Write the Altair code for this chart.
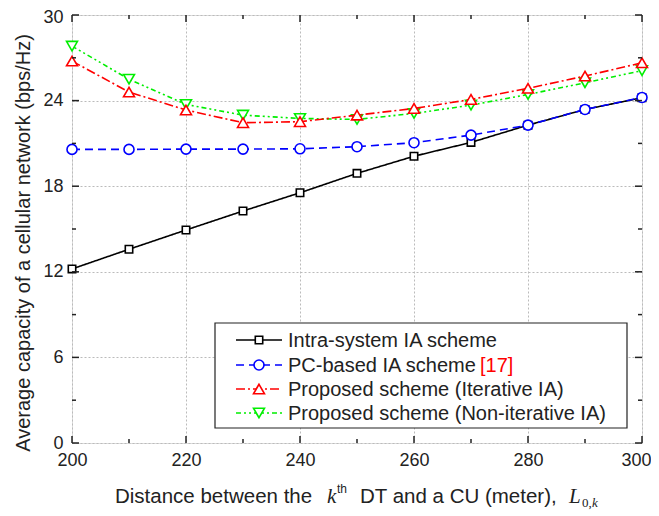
import altair as alt
import pandas as pd

distance = [200, 210, 220, 230, 240, 250, 260, 270, 280, 290, 300]
intra = [12.2, 13.58, 14.93, 16.26, 17.54, 18.9, 20.1, 21.07, 22.28, 23.38, 24.2]
pc_based = [20.58, 20.58, 20.6, 20.6, 20.62, 20.77, 21.05, 21.58, 22.28, 23.38, 24.22]
iterative = [26.77, 24.6, 23.34, 22.45, 22.52, 22.98, 23.45, 24.08, 24.86, 25.72, 26.65]
non_iterative = [27.82, 25.5, 23.73, 22.98, 22.75, 22.68, 23.1, 23.68, 24.43, 25.25, 26.1]

labels = [
    "Intra-system IA scheme",
    "PC-based IA scheme",
    "Proposed scheme (Iterative IA)",
    "Proposed scheme (Non-iterative IA)",
]
y_title = "Average capacity of a cellular network (bps/Hz)"
y_major = [0, 6, 12, 18, 24, 30]
y_minor = [3, 9, 15, 21, 27]
x_major = [200, 220, 240, 260, 280, 300]
x_minor = [210, 230, 250, 270, 290]

W, H = 570, 428
FONT = "Liberation Sans"
SERIF = "Liberation Serif"
TXT = "#222222"

styles = [
    dict(values=intra, color="#000000", dash=[1, 0], shape="square", size=55),
    dict(values=non_iterative, color="#00ee00", dash=[5, 3, 2, 3, 2, 3], shape="triangle-down", size=120),
    dict(values=pc_based, color="#0000ff", dash=[8, 5], shape="circle", size=100),
    dict(values=iterative, color="#ff0000", dash=[9, 3, 2, 3], shape="triangle-up", size=120),
]
legend_order = [0, 2, 3, 1]  # index into styles for legend rows

xscale = alt.Scale(domain=[200, 300], nice=False, zero=False)
yscale = alt.Scale(domain=[0, 30], nice=False)

x_axis = alt.Axis(values=x_major, title=None, tickSize=0, domain=False, labelPadding=8,
                  labelFontSize=18, labelFont=FONT, labelColor=TXT, labelFlush=False,
                  labelOffset={"condition": {"test": "datum.value === 300", "value": -6}, "value": 0},
                  grid=True, gridDash=[2, 2], gridColor="#bbbbbb", gridWidth=1)
y_axis = alt.Axis(values=y_major, title=None,
                  tickSize=0, domain=False, labelPadding=9, labelFontSize=18, labelFont=FONT,
                  labelColor=TXT, labelFlush=False,
                  labelOffset={"condition": {"test": "datum.value === 30", "value": 2}, "value": 0},
                  grid=True, gridDash=[2, 2], gridColor="#bbbbbb", gridWidth=1)

layers = []
first = True
for st in styles:
    df = pd.DataFrame({"distance": distance, "capacity": st["values"]})
    if first:
        enc_x = alt.X("distance:Q", scale=xscale, axis=x_axis)
        enc_y = alt.Y("capacity:Q", scale=yscale, axis=y_axis)
    else:
        enc_x = alt.X("distance:Q", scale=xscale)
        enc_y = alt.Y("capacity:Q", scale=yscale)
    first = False
    line = alt.Chart(df).mark_line(color=st["color"], strokeDash=st["dash"],
                                   strokeWidth=1.6).encode(x=enc_x, y=enc_y)
    pts = alt.Chart(df).mark_point(shape=st["shape"], size=st["size"], filled=False, fill="white",
                                   fillOpacity=1, stroke=st["color"], strokeWidth=1.6,
                                   opacity=1).encode(
        x=alt.X("distance:Q", scale=xscale), y=alt.Y("capacity:Q", scale=yscale))
    layers += [line, pts]


# inward ticks on all four sides
def yticks(vals, length):
    d = pd.DataFrame({"capacity": vals})
    left = alt.Chart(d).mark_rule(color=TXT, strokeWidth=1.5).encode(
        y=alt.Y("capacity:Q", scale=yscale), x=alt.value(0), x2=alt.value(length))
    right = alt.Chart(d).mark_rule(color=TXT, strokeWidth=1.5).encode(
        y=alt.Y("capacity:Q", scale=yscale), x=alt.value(W - length), x2=alt.value(W))
    return [left, right]


def xticks(vals, length):
    d = pd.DataFrame({"distance": vals})
    bottom = alt.Chart(d).mark_rule(color=TXT, strokeWidth=1.5).encode(
        x=alt.X("distance:Q", scale=xscale), y=alt.value(H), y2=alt.value(H - length))
    top = alt.Chart(d).mark_rule(color=TXT, strokeWidth=1.5).encode(
        x=alt.X("distance:Q", scale=xscale), y=alt.value(0), y2=alt.value(length))
    return [bottom, top]


layers += yticks(y_major, 7) + yticks(y_minor, 4) + xticks(x_major, 7) + xticks(x_minor, 4)

# legend
one = pd.DataFrame({"k": [0]})
layers.append(alt.Chart(one).mark_rect(fill="white", stroke=TXT, strokeWidth=1.2).encode(
    x=alt.value(143), x2=alt.value(555), y=alt.value(308), y2=alt.value(413)))
row_y = [325, 350, 374, 398]
for i, si in enumerate(legend_order):
    st = styles[si]
    d = pd.DataFrame({"label": [labels[i]]})
    layers.append(alt.Chart(d).mark_rule(color=st["color"], strokeDash=st["dash"],
                                         strokeWidth=1.6).encode(
        x=alt.value(164), x2=alt.value(210), y=alt.value(row_y[i])))
    layers.append(alt.Chart(d).mark_point(shape=st["shape"], size=st["size"], filled=False,
                                          fill="white", fillOpacity=1, stroke=st["color"],
                                          strokeWidth=1.6, opacity=1).encode(
        x=alt.value(187), y=alt.value(row_y[i])))
    layers.append(alt.Chart(d).mark_text(align="left", baseline="middle", font=FONT, fontSize=20,
                                         color=TXT).encode(
        x=alt.value(216), y=alt.value(row_y[i] + 1), text="label:N"))
ref = pd.DataFrame({"t": ["[17]"]})
layers.append(alt.Chart(ref).mark_text(align="left", baseline="middle", font=FONT, fontSize=20,
                                       color="#ff0000").encode(
    x=alt.value(408), y=alt.value(row_y[1] + 1), text="t:N"))

# y title as rotated text
yt = pd.DataFrame({"t": [y_title]})
layers.append(alt.Chart(yt).mark_text(align="center", baseline="middle", angle=270, font=FONT,
                                      fontSize=20, color=TXT).encode(
    x=alt.value(-48), y=alt.value(228), text="t:N"))

# x title pieces (with italic k, superscript th and subscripted L)
pieces = [
    ("Distance between the", 43, 488, FONT, 20.5, "normal"),
    ("k", 255, 488, SERIF, 21, "italic"),
    ("th", 265, 478, FONT, 12, "normal"),
    ("DT and a CU (meter),", 288, 488, FONT, 20.5, "normal"),
    ("L", 497, 488, SERIF, 21, "italic"),
    ("0,", 510, 492, SERIF, 13, "normal"),
    ("k", 520, 492, SERIF, 13, "italic"),
]
for txt, px, py, fnt, fs, sty in pieces:
    d = pd.DataFrame({"t": [txt]})
    layers.append(alt.Chart(d).mark_text(align="left", baseline="alphabetic", font=fnt, fontSize=fs,
                                         fontStyle=sty, color=TXT).encode(
        x=alt.value(px), y=alt.value(py), text="t:N"))

chart = alt.layer(*layers).properties(
    width=W, height=H, autosize=alt.AutoSizeParams(type="none"),
    padding={"left": 64, "top": 7, "right": 9, "bottom": 72},
).configure_view(stroke=TXT, strokeWidth=1.8).configure(background="white")

chart.save("out.html", embed_options={"renderer": "svg", "actions": False})
